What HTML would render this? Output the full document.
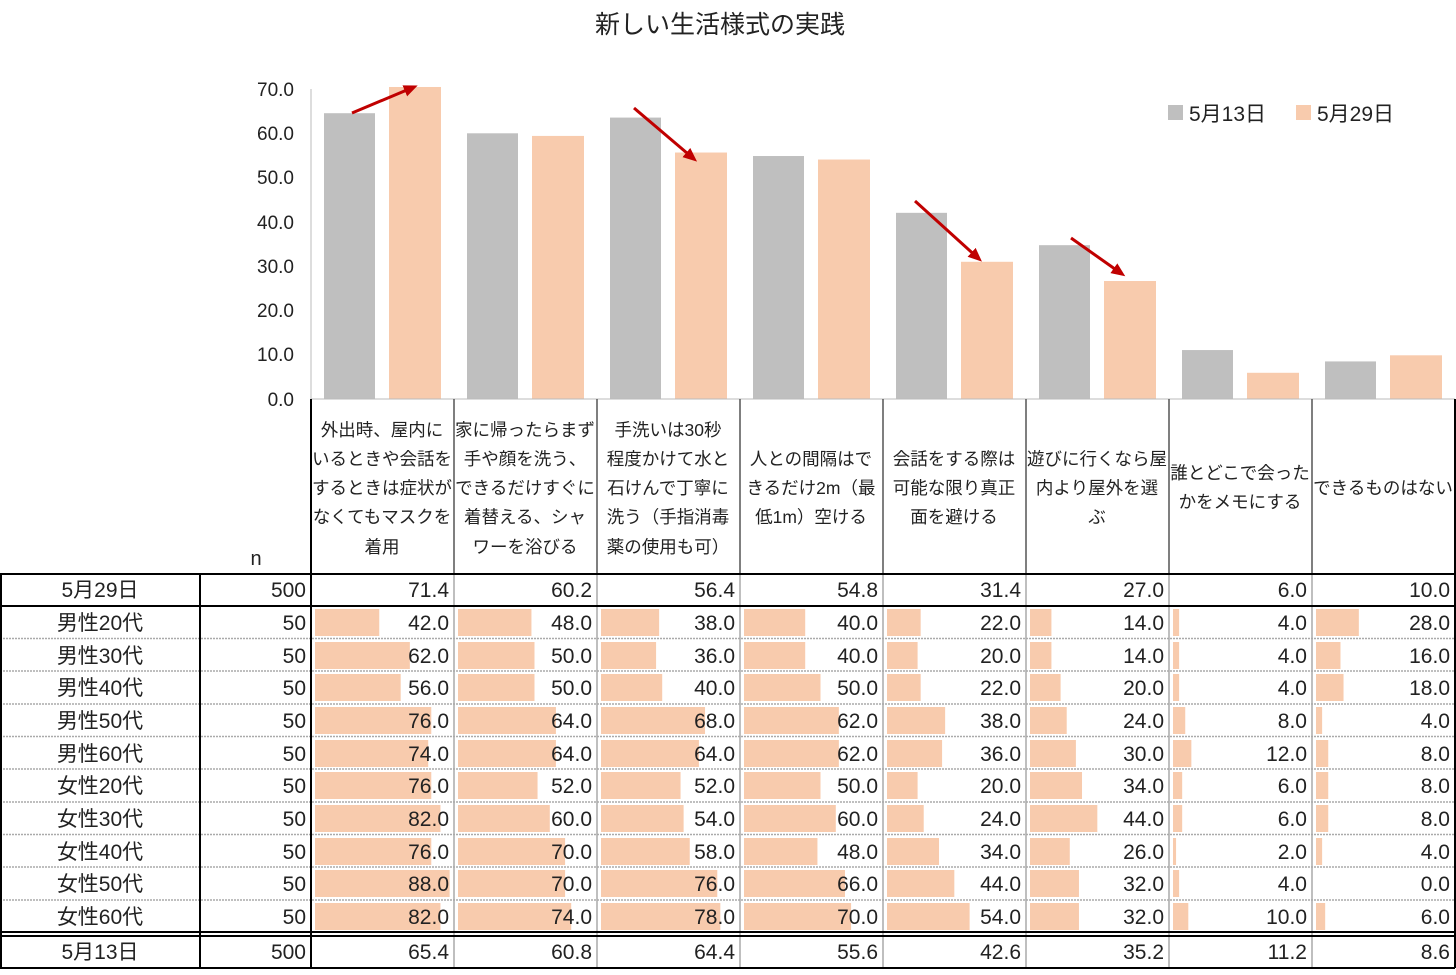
<!DOCTYPE html>
<html><head><meta charset="utf-8"><style>
html,body{margin:0;padding:0;background:#fff;}
svg text{font-family:"Liberation Sans","Noto Sans CJK JP",sans-serif;fill:#222;}
</style></head><body>
<svg width="1456" height="970" viewBox="0 0 1456 970" xmlns="http://www.w3.org/2000/svg">
<text x="720" y="33" font-size="25" text-anchor="middle">新しい生活様式の実践</text>
<g font-size="19" text-anchor="end">
<text x="294" y="96">70.0</text><text x="294" y="140">60.0</text><text x="294" y="184">50.0</text>
<text x="294" y="229">40.0</text><text x="294" y="273">30.0</text><text x="294" y="317">20.0</text>
<text x="294" y="361">10.0</text><text x="294" y="406">0.0</text>
</g>
<line x1="311" y1="89" x2="311" y2="399" stroke="#bbb" stroke-width="1"/>
<g transform="translate(0,399) scale(1,-4.37)">
<g fill="#BFBFBF">
<rect x="324" y="0" width="51" height="65.4"/><rect x="467" y="0" width="51" height="60.8"/>
<rect x="610" y="0" width="51" height="64.4"/><rect x="753" y="0" width="51" height="55.6"/>
<rect x="896" y="0" width="51" height="42.6"/><rect x="1039" y="0" width="51" height="35.2"/>
<rect x="1182" y="0" width="51" height="11.2"/><rect x="1325" y="0" width="51" height="8.6"/>
</g>
<g fill="#F8CBAD">
<rect x="389" y="0" width="52" height="71.4"/><rect x="532" y="0" width="52" height="60.2"/>
<rect x="675" y="0" width="52" height="56.4"/><rect x="818" y="0" width="52" height="54.8"/>
<rect x="961" y="0" width="52" height="31.4"/><rect x="1104" y="0" width="52" height="27.0"/>
<rect x="1247" y="0" width="52" height="6.0"/><rect x="1390" y="0" width="52" height="10.0"/>
</g>
</g>
<line x1="311" y1="399" x2="1455" y2="399" stroke="#bbb"/>
<defs><marker id="ah" markerWidth="14" markerHeight="12" refX="10" refY="6" orient="auto" markerUnits="userSpaceOnUse"><path d="M0,0 L14,6 L0,12z" fill="#C00000"/></marker></defs>
<g stroke="#C00000" stroke-width="3" marker-end="url(#ah)">
<line x1="352" y1="113" x2="414" y2="87"/>
<line x1="634" y1="108" x2="694" y2="159"/>
<line x1="915" y1="201" x2="979" y2="259"/>
<line x1="1071" y1="238" x2="1122" y2="274"/>
</g>
<rect x="1168" y="105" width="15" height="15" fill="#BFBFBF"/>
<text x="1189" y="121" font-size="21">5月13日</text>
<rect x="1296" y="105" width="15" height="15" fill="#F8CBAD"/>
<text x="1317" y="121" font-size="21">5月29日</text>
<g font-size="17.5" text-anchor="middle">
<text x="382" y="436">外出時、屋内に</text><text x="382" y="465">いるときや会話を</text><text x="382" y="494">するときは症状が</text><text x="382" y="523">なくてもマスクを</text><text x="382" y="553">着用</text>
<text x="525" y="436">家に帰ったらまず</text><text x="525" y="465">手や顔を洗う、</text><text x="525" y="494">できるだけすぐに</text><text x="525" y="523">着替える、シャ</text><text x="525" y="553">ワーを浴びる</text>
<text x="668" y="436">手洗いは30秒</text><text x="668" y="465">程度かけて水と</text><text x="668" y="494">石けんで丁寧に</text><text x="668" y="523">洗う（手指消毒</text><text x="668" y="553">薬の使用も可）</text>
<text x="811" y="465">人との間隔はで</text><text x="811" y="494">きるだけ2m（最</text><text x="811" y="523">低1m）空ける</text>
<text x="954" y="465">会話をする際は</text><text x="954" y="494">可能な限り真正</text><text x="954" y="523">面を避ける</text>
<text x="1097" y="465">遊びに行くなら屋</text><text x="1097" y="494">内より屋外を選</text><text x="1097" y="523">ぶ</text>
<text x="1240" y="479">誰とどこで会った</text><text x="1240" y="508">かをメモにする</text>
<text x="1383" y="494">できるものはない</text>
</g>
<text x="256" y="565" font-size="20" text-anchor="middle">n</text>
<g fill="#F8CBAD">
<g transform="translate(315,0) scale(1.53,1)">
<rect x="0" y="609" width="42" height="27"/><rect x="0" y="642" width="62" height="27"/><rect x="0" y="674" width="56" height="27"/><rect x="0" y="707" width="76" height="27"/><rect x="0" y="740" width="74" height="27"/><rect x="0" y="772" width="76" height="27"/><rect x="0" y="805" width="82" height="27"/><rect x="0" y="838" width="76" height="27"/><rect x="0" y="870" width="88" height="27"/><rect x="0" y="903" width="82" height="27"/>
</g>
<g transform="translate(458,0) scale(1.53,1)">
<rect x="0" y="609" width="48" height="27"/><rect x="0" y="642" width="50" height="27"/><rect x="0" y="674" width="50" height="27"/><rect x="0" y="707" width="64" height="27"/><rect x="0" y="740" width="64" height="27"/><rect x="0" y="772" width="52" height="27"/><rect x="0" y="805" width="60" height="27"/><rect x="0" y="838" width="70" height="27"/><rect x="0" y="870" width="70" height="27"/><rect x="0" y="903" width="74" height="27"/>
</g>
<g transform="translate(601,0) scale(1.53,1)">
<rect x="0" y="609" width="38" height="27"/><rect x="0" y="642" width="36" height="27"/><rect x="0" y="674" width="40" height="27"/><rect x="0" y="707" width="68" height="27"/><rect x="0" y="740" width="64" height="27"/><rect x="0" y="772" width="52" height="27"/><rect x="0" y="805" width="54" height="27"/><rect x="0" y="838" width="58" height="27"/><rect x="0" y="870" width="76" height="27"/><rect x="0" y="903" width="78" height="27"/>
</g>
<g transform="translate(744,0) scale(1.53,1)">
<rect x="0" y="609" width="40" height="27"/><rect x="0" y="642" width="40" height="27"/><rect x="0" y="674" width="50" height="27"/><rect x="0" y="707" width="62" height="27"/><rect x="0" y="740" width="62" height="27"/><rect x="0" y="772" width="50" height="27"/><rect x="0" y="805" width="60" height="27"/><rect x="0" y="838" width="48" height="27"/><rect x="0" y="870" width="66" height="27"/><rect x="0" y="903" width="70" height="27"/>
</g>
<g transform="translate(887,0) scale(1.53,1)">
<rect x="0" y="609" width="22" height="27"/><rect x="0" y="642" width="20" height="27"/><rect x="0" y="674" width="22" height="27"/><rect x="0" y="707" width="38" height="27"/><rect x="0" y="740" width="36" height="27"/><rect x="0" y="772" width="20" height="27"/><rect x="0" y="805" width="24" height="27"/><rect x="0" y="838" width="34" height="27"/><rect x="0" y="870" width="44" height="27"/><rect x="0" y="903" width="54" height="27"/>
</g>
<g transform="translate(1030,0) scale(1.53,1)">
<rect x="0" y="609" width="14" height="27"/><rect x="0" y="642" width="14" height="27"/><rect x="0" y="674" width="20" height="27"/><rect x="0" y="707" width="24" height="27"/><rect x="0" y="740" width="30" height="27"/><rect x="0" y="772" width="34" height="27"/><rect x="0" y="805" width="44" height="27"/><rect x="0" y="838" width="26" height="27"/><rect x="0" y="870" width="32" height="27"/><rect x="0" y="903" width="32" height="27"/>
</g>
<g transform="translate(1173,0) scale(1.53,1)">
<rect x="0" y="609" width="4" height="27"/><rect x="0" y="642" width="4" height="27"/><rect x="0" y="674" width="4" height="27"/><rect x="0" y="707" width="8" height="27"/><rect x="0" y="740" width="12" height="27"/><rect x="0" y="772" width="6" height="27"/><rect x="0" y="805" width="6" height="27"/><rect x="0" y="838" width="2" height="27"/><rect x="0" y="870" width="4" height="27"/><rect x="0" y="903" width="10" height="27"/>
</g>
<g transform="translate(1316,0) scale(1.53,1)">
<rect x="0" y="609" width="28" height="27"/><rect x="0" y="642" width="16" height="27"/><rect x="0" y="674" width="18" height="27"/><rect x="0" y="707" width="4" height="27"/><rect x="0" y="740" width="8" height="27"/><rect x="0" y="772" width="8" height="27"/><rect x="0" y="805" width="8" height="27"/><rect x="0" y="838" width="4" height="27"/><rect x="0" y="870" width="0" height="27"/><rect x="0" y="903" width="6" height="27"/>
</g>
</g>
<g stroke="#aaa" stroke-width="1.5" stroke-dasharray="2,1">
<line x1="0" y1="638.5" x2="1455" y2="638.5"/><line x1="0" y1="671" x2="1455" y2="671"/><line x1="0" y1="704" x2="1455" y2="704"/><line x1="0" y1="736.5" x2="1455" y2="736.5"/><line x1="0" y1="769" x2="1455" y2="769"/><line x1="0" y1="802" x2="1455" y2="802"/><line x1="0" y1="834.5" x2="1455" y2="834.5"/><line x1="0" y1="867" x2="1455" y2="867"/><line x1="0" y1="900" x2="1455" y2="900"/>
</g>
<g stroke="#aaa" stroke-width="1.5">
<line x1="454" y1="573" x2="454" y2="968"/><line x1="597" y1="573" x2="597" y2="968"/><line x1="740" y1="573" x2="740" y2="968"/><line x1="883" y1="573" x2="883" y2="968"/><line x1="1026" y1="573" x2="1026" y2="968"/><line x1="1169" y1="573" x2="1169" y2="968"/><line x1="1312" y1="573" x2="1312" y2="968"/>
</g>
<g stroke="#555" stroke-width="1.5">
<line x1="454" y1="399" x2="454" y2="573"/><line x1="597" y1="399" x2="597" y2="573"/><line x1="740" y1="399" x2="740" y2="573"/><line x1="883" y1="399" x2="883" y2="573"/><line x1="1026" y1="399" x2="1026" y2="573"/><line x1="1169" y1="399" x2="1169" y2="573"/><line x1="1312" y1="399" x2="1312" y2="573"/>
</g>
<g stroke="#000" stroke-width="2" fill="none">
<line x1="0" y1="574" x2="1455" y2="574"/><line x1="0" y1="606" x2="1455" y2="606"/>
<line x1="0" y1="932" x2="1455" y2="932"/><line x1="0" y1="936" x2="1455" y2="936"/>
<line x1="0" y1="968" x2="1455" y2="968"/>
<line x1="1" y1="574" x2="1" y2="968"/><line x1="200" y1="574" x2="200" y2="968"/>
<line x1="311" y1="399" x2="311" y2="968"/><line x1="1455" y1="399" x2="1455" y2="968"/>
</g>
<g font-size="21" text-anchor="middle">
<text x="100" y="597">5月29日</text><text x="100" y="630">男性20代</text><text x="100" y="663">男性30代</text><text x="100" y="695">男性40代</text><text x="100" y="728">男性50代</text><text x="100" y="761">男性60代</text><text x="100" y="793">女性20代</text><text x="100" y="826">女性30代</text><text x="100" y="859">女性40代</text><text x="100" y="891">女性50代</text><text x="100" y="924">女性60代</text><text x="100" y="959">5月13日</text>
</g>
<g font-size="21" text-anchor="end">
<text x="306" y="597">500</text><text x="306" y="630">50</text><text x="306" y="663">50</text><text x="306" y="695">50</text><text x="306" y="728">50</text><text x="306" y="761">50</text><text x="306" y="793">50</text><text x="306" y="826">50</text><text x="306" y="859">50</text><text x="306" y="891">50</text><text x="306" y="924">50</text><text x="306" y="959">500</text>
</g>
<g font-size="21" text-anchor="end">
<text x="449" y="597">71.4</text><text x="592" y="597">60.2</text><text x="735" y="597">56.4</text><text x="878" y="597">54.8</text><text x="1021" y="597">31.4</text><text x="1164" y="597">27.0</text><text x="1307" y="597">6.0</text><text x="1450" y="597">10.0</text>
<text x="449" y="630">42.0</text><text x="592" y="630">48.0</text><text x="735" y="630">38.0</text><text x="878" y="630">40.0</text><text x="1021" y="630">22.0</text><text x="1164" y="630">14.0</text><text x="1307" y="630">4.0</text><text x="1450" y="630">28.0</text>
<text x="449" y="663">62.0</text><text x="592" y="663">50.0</text><text x="735" y="663">36.0</text><text x="878" y="663">40.0</text><text x="1021" y="663">20.0</text><text x="1164" y="663">14.0</text><text x="1307" y="663">4.0</text><text x="1450" y="663">16.0</text>
<text x="449" y="695">56.0</text><text x="592" y="695">50.0</text><text x="735" y="695">40.0</text><text x="878" y="695">50.0</text><text x="1021" y="695">22.0</text><text x="1164" y="695">20.0</text><text x="1307" y="695">4.0</text><text x="1450" y="695">18.0</text>
<text x="449" y="728">76.0</text><text x="592" y="728">64.0</text><text x="735" y="728">68.0</text><text x="878" y="728">62.0</text><text x="1021" y="728">38.0</text><text x="1164" y="728">24.0</text><text x="1307" y="728">8.0</text><text x="1450" y="728">4.0</text>
<text x="449" y="761">74.0</text><text x="592" y="761">64.0</text><text x="735" y="761">64.0</text><text x="878" y="761">62.0</text><text x="1021" y="761">36.0</text><text x="1164" y="761">30.0</text><text x="1307" y="761">12.0</text><text x="1450" y="761">8.0</text>
<text x="449" y="793">76.0</text><text x="592" y="793">52.0</text><text x="735" y="793">52.0</text><text x="878" y="793">50.0</text><text x="1021" y="793">20.0</text><text x="1164" y="793">34.0</text><text x="1307" y="793">6.0</text><text x="1450" y="793">8.0</text>
<text x="449" y="826">82.0</text><text x="592" y="826">60.0</text><text x="735" y="826">54.0</text><text x="878" y="826">60.0</text><text x="1021" y="826">24.0</text><text x="1164" y="826">44.0</text><text x="1307" y="826">6.0</text><text x="1450" y="826">8.0</text>
<text x="449" y="859">76.0</text><text x="592" y="859">70.0</text><text x="735" y="859">58.0</text><text x="878" y="859">48.0</text><text x="1021" y="859">34.0</text><text x="1164" y="859">26.0</text><text x="1307" y="859">2.0</text><text x="1450" y="859">4.0</text>
<text x="449" y="891">88.0</text><text x="592" y="891">70.0</text><text x="735" y="891">76.0</text><text x="878" y="891">66.0</text><text x="1021" y="891">44.0</text><text x="1164" y="891">32.0</text><text x="1307" y="891">4.0</text><text x="1450" y="891">0.0</text>
<text x="449" y="924">82.0</text><text x="592" y="924">74.0</text><text x="735" y="924">78.0</text><text x="878" y="924">70.0</text><text x="1021" y="924">54.0</text><text x="1164" y="924">32.0</text><text x="1307" y="924">10.0</text><text x="1450" y="924">6.0</text>
<text x="449" y="959">65.4</text><text x="592" y="959">60.8</text><text x="735" y="959">64.4</text><text x="878" y="959">55.6</text><text x="1021" y="959">42.6</text><text x="1164" y="959">35.2</text><text x="1307" y="959">11.2</text><text x="1450" y="959">8.6</text>
</g>
</svg>
</body></html>
